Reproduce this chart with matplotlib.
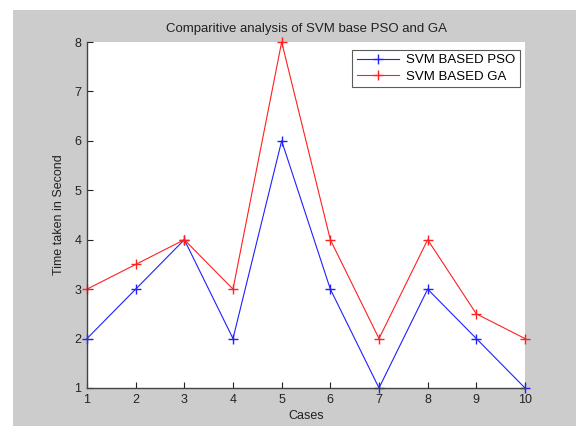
import matplotlib
matplotlib.use("Agg")
import matplotlib.pyplot as plt
from matplotlib.patches import Rectangle

cases = [1, 2, 3, 4, 5, 6, 7, 8, 9, 10]
pso = [2, 3, 4, 2, 6, 3, 1, 3, 2, 1]
ga = [3, 3.5, 4, 3, 8, 4, 2, 4, 2.5, 2]
title = "Comparitive analysis of SVM base PSO and GA"

plt.rcParams['font.family'] = ['Liberation Sans', 'DejaVu Sans']
W, H = 576, 426
fig = plt.figure(figsize=(W / 100, H / 100), dpi=100, facecolor='white')
fig.patches.append(Rectangle((13 / W, 0), 1 - 13 / W, 1 - 10 / H, transform=fig.transFigure,
                             facecolor='#cccccc', edgecolor='none', zorder=-10))
ax = fig.add_axes([87 / W, 1 - 388 / H, (525 - 87) / W, (388 - 42) / H])
ax.set_facecolor('white')
ax.plot(cases, pso, color='#2020ff', lw=0.8, marker='+', ms=7, mew=1.0, label='SVM BASED PSO', clip_on=False)
ax.plot(cases, ga, color='#ff2020', lw=0.8, marker='+', ms=7, mew=1.0, label='SVM BASED GA', clip_on=False)
ax.set_xlim(1, 10)
ax.set_ylim(1, 8)
ax.set_xticks(cases)
ax.set_yticks(range(1, 9))
for s in ['top', 'right']:
    ax.spines[s].set_visible(False)
for s in ['left', 'bottom']:
    ax.spines[s].set_color('#444444')
    ax.spines[s].set_linewidth(1.0)
ax.tick_params(direction='in', length=4, width=0.8, color='#222222', labelsize=9, labelcolor='#222222', pad=4)
ax.set_title(title, fontsize=9.5, color='#222222', pad=7)
ax.set_xlabel('Cases', fontsize=9, color='#222222', labelpad=3)
ax.set_ylabel('Time taken in Second', fontsize=9, color='#222222', labelpad=7)
leg = ax.legend(loc='upper right', bbox_to_anchor=(0.988, 0.978), fontsize=9.5, frameon=True, fancybox=False,
                handlelength=3.2, borderpad=0.35, labelspacing=0.3, handletextpad=0.5, borderaxespad=0)
leg.get_frame().set_edgecolor('#333333')
leg.get_frame().set_linewidth(0.8)
fig.savefig('out.png', dpi=100, facecolor='white')
